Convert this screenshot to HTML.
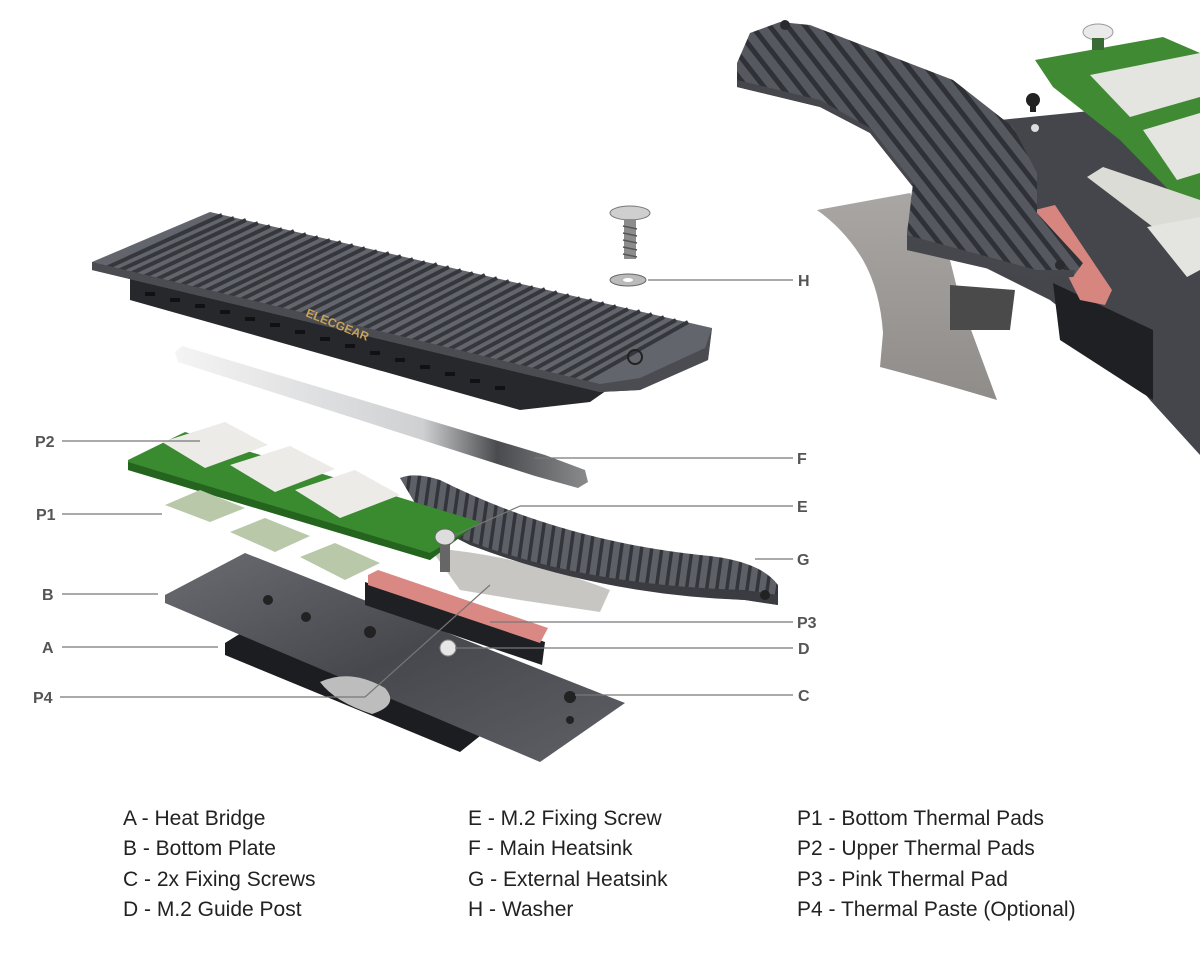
<!DOCTYPE html>
<html><head><meta charset="utf-8"><style>
html,body{margin:0;padding:0;background:#fff;}
svg{display:block}
text{font-family:"Liberation Sans",sans-serif;}
</style></head><body>
<svg width="1200" height="960" viewBox="0 0 1200 960" xmlns="http://www.w3.org/2000/svg">
<defs>
<pattern id="fins2" width="10" height="10" patternUnits="userSpaceOnUse" patternTransform="rotate(8)">
<rect width="10" height="10" fill="#5d6067"/><rect width="3.5" height="10" fill="#33353a"/></pattern>
<pattern id="fins3" width="14" height="14" patternUnits="userSpaceOnUse" patternTransform="rotate(-38)">
<rect width="14" height="14" fill="#55585f"/><rect width="5" height="14" fill="#2f3136"/></pattern>
<linearGradient id="steel" x1="0" y1="0" x2="1" y2="0"><stop offset="0" stop-color="#f4f4f4"/><stop offset=".6" stop-color="#cfd0d2"/><stop offset=".78" stop-color="#4a4b4e"/><stop offset="1" stop-color="#8a8b8d"/></linearGradient>
<linearGradient id="silver" x1="0" y1="0" x2="0" y2="1"><stop offset="0" stop-color="#a9a6a3"/><stop offset="1" stop-color="#8f8c89"/></linearGradient>
<linearGradient id="plate" x1="0" y1="0" x2="1" y2="1"><stop offset="0" stop-color="#6a6c72"/><stop offset=".5" stop-color="#46484d"/><stop offset="1" stop-color="#5e6066"/></linearGradient>
</defs>
<rect width="1200" height="960" fill="#fff"/>

<!-- top-right close-up -->
<path d="M1000,120 L1200,100 L1200,455 L1150,400 L1100,340 L1050,300 L1000,275 L950,250Z" fill="#44464c"/>
<path d="M1053,283 L1153,330 L1153,400 L1060,340Z" fill="#1f2023"/>
<path d="M817,210 L910,193 L950,260 L960,300 L997,400 Q930,380 880,367 L883,333 Q880,290 863,260 Q845,230 817,210Z" fill="url(#silver)"/>
<path d="M950,285 L1015,290 L1010,330 L950,330Z" fill="#4a4a4b"/>
<path d="M1035,210 L1055,205 L1112,290 L1105,305 L1080,300Z" fill="#d7857f"/>
<path d="M1035,60 L1163,37 L1200,53 L1200,222 L1120,140 L1053,87Z" fill="#3f8a32"/>
<path d="M1090,75 L1200,53 L1200,97 L1130,117Z" fill="#e4e4e0"/>
<path d="M1143,130 L1200,113 L1200,173 L1177,180Z" fill="#e4e4e0"/>
<path d="M1087,177 L1103,167 L1200,200 L1200,262 L1170,240Z" fill="#dcdcd6"/>
<path d="M1147,227 L1200,217 L1200,270 L1187,277Z" fill="#e4e4e0"/>
<path d="M750,33 L780,22 L810,25 L953,80 L1013,127 L1037,173 L1037,213 L1083,263 L1073,277 L1037,277 L907,250 L907,233 L913,187 L870,133 L820,107 L737,87 L737,63Z" fill="url(#fins3)"/>
<path d="M737,80 L820,100 L870,128 L913,182 L907,235 L1037,270 L1075,270 L1073,277 L1037,280 L907,250 L907,233 L913,187 L870,133 L820,107 L737,87Z" fill="#45474d"/>
<circle cx="785" cy="25" r="5" fill="#2a2b2e"/><circle cx="1060" cy="265" r="5" fill="#2a2b2e"/>
<circle cx="1033" cy="100" r="7" fill="#222"/><rect x="1030" y="100" width="6" height="12" fill="#222"/>
<circle cx="1035" cy="128" r="4" fill="#ddd"/>
<ellipse cx="1098" cy="32" rx="15" ry="8" fill="#eaeaea" stroke="#999"/>
<rect x="1092" y="38" width="12" height="12" fill="#3a6a35"/>

<!-- main heatsink F -->
<path d="M130,272 L610,388 L590,402 L520,410 L130,300Z" fill="#26282c"/>
<g fill="#101113">
<rect x="145" y="292" width="10" height="4"/><rect x="170" y="298" width="10" height="4"/><rect x="195" y="304" width="10" height="4"/><rect x="220" y="310" width="10" height="4"/><rect x="245" y="317" width="10" height="4"/><rect x="270" y="323" width="10" height="4"/><rect x="295" y="330" width="10" height="4"/><rect x="320" y="337" width="10" height="4"/><rect x="345" y="344" width="10" height="4"/><rect x="370" y="351" width="10" height="4"/><rect x="395" y="358" width="10" height="4"/><rect x="420" y="365" width="10" height="4"/><rect x="445" y="372" width="10" height="4"/><rect x="470" y="379" width="10" height="4"/><rect x="495" y="386" width="10" height="4"/>
</g>
<path d="M92,262 L210,212 L712,328 L708,360 L640,390 L600,392 L92,270Z" fill="#62656c"/>
<g stroke="#35373c" stroke-width="4">
<line x1="222" y1="215" x2="104" y2="269"/><line x1="234" y1="218" x2="116" y2="272"/><line x1="246" y1="220" x2="128" y2="275"/><line x1="258" y1="223" x2="141" y2="278"/><line x1="270" y1="226" x2="153" y2="281"/><line x1="282" y1="229" x2="165" y2="284"/><line x1="294" y1="231" x2="177" y2="287"/><line x1="306" y1="234" x2="189" y2="290"/><line x1="318" y1="237" x2="201" y2="293"/><line x1="330" y1="240" x2="213" y2="296"/><line x1="341" y1="242" x2="226" y2="298"/><line x1="353" y1="245" x2="238" y2="301"/><line x1="365" y1="248" x2="250" y2="304"/><line x1="377" y1="251" x2="262" y2="307"/><line x1="389" y1="253" x2="274" y2="310"/><line x1="401" y1="256" x2="286" y2="313"/><line x1="413" y1="259" x2="298" y2="316"/><line x1="425" y1="262" x2="311" y2="319"/><line x1="437" y1="264" x2="323" y2="322"/><line x1="449" y1="267" x2="335" y2="325"/><line x1="461" y1="270" x2="347" y2="328"/><line x1="473" y1="273" x2="359" y2="331"/><line x1="485" y1="275" x2="371" y2="334"/><line x1="497" y1="278" x2="384" y2="337"/><line x1="509" y1="281" x2="396" y2="340"/><line x1="521" y1="284" x2="408" y2="343"/><line x1="533" y1="287" x2="420" y2="346"/><line x1="545" y1="289" x2="432" y2="349"/><line x1="557" y1="292" x2="444" y2="352"/><line x1="569" y1="295" x2="456" y2="355"/><line x1="580" y1="298" x2="469" y2="357"/><line x1="592" y1="300" x2="481" y2="360"/><line x1="604" y1="303" x2="493" y2="363"/><line x1="616" y1="306" x2="505" y2="366"/><line x1="628" y1="309" x2="517" y2="369"/><line x1="640" y1="311" x2="529" y2="372"/><line x1="652" y1="314" x2="541" y2="375"/><line x1="664" y1="317" x2="554" y2="378"/><line x1="676" y1="320" x2="566" y2="381"/><line x1="688" y1="322" x2="578" y2="384"/>
</g>
<path d="M92,262 L92,270 L600,392 L640,390 L708,360 L712,328 L705,348 L640,378 L600,384Z" fill="#4a4c52"/>
<text x="305" y="316" font-size="12" font-weight="bold" fill="#c9a25a" transform="rotate(22 305 316)">ELECGEAR</text>
<circle cx="635" cy="357" r="7" fill="none" stroke="#222" stroke-width="2"/>

<!-- steel bar -->
<path d="M175,352 L182,346 L545,455 L585,470 L588,482 L578,488 L535,476 L178,362Z" fill="url(#steel)"/>

<!-- heat bridge A & bottom plate B -->
<path d="M225,643 L262,620 L510,712 L460,752 L225,655Z" fill="#1c1d20"/>
<path d="M165,595 L245,553 L625,703 L540,762 L165,603Z" fill="url(#plate)"/>
<path d="M320,682 Q350,668 385,688 Q400,705 372,714 Q335,702 320,682Z" fill="#bdbdbd"/>
<circle cx="268" cy="600" r="5" fill="#222"/><circle cx="306" cy="617" r="5" fill="#222"/><circle cx="370" cy="632" r="6" fill="#222"/>
<circle cx="570" cy="697" r="6" fill="#222"/><circle cx="570" cy="720" r="4" fill="#222"/>
<circle cx="448" cy="648" r="8" fill="#e6e6e6" stroke="#888"/>

<!-- black block & pink pad P3 -->
<path d="M365,582 L545,642 L542,665 L365,605Z" fill="#1f2023"/>
<path d="M368,575 L378,570 L548,628 L540,643 L368,585Z" fill="#d98883"/>

<!-- silver under G -->
<path d="M430,548 Q520,555 610,590 L600,612 L520,600 L460,590Z" fill="#c8c6c3"/>

<!-- external heatsink G -->
<path d="M400,478 Q415,472 440,480 Q560,540 700,555 Q760,560 778,585 L778,605 L745,600 Q600,592 470,545 L425,520Z" fill="url(#fins2)"/>
<path d="M430,525 Q560,585 745,590 L778,595 L778,605 L745,600 Q600,595 470,545Z" fill="#3a3c41"/>
<circle cx="765" cy="595" r="5" fill="#222"/>

<!-- PCB & pads -->
<path d="M128,460 L185,432 L480,522 L430,560 L128,470Z" fill="#3a8a30"/>
<path d="M128,462 L128,470 L430,560 L480,522 L475,526 L430,553Z" fill="#25641f"/>
<path d="M165,505 L200,490 L245,508 L210,522Z" fill="#b9c8a8"/>
<path d="M230,532 L265,518 L310,536 L275,552Z" fill="#b9c8a8"/>
<path d="M300,557 L335,543 L380,563 L345,580Z" fill="#b9c8a8"/>
<path d="M162,442 L225,422 L268,445 L205,468Z" fill="#ecebe8"/>
<path d="M230,465 L290,446 L335,469 L275,492Z" fill="#ecebe8"/>
<path d="M295,490 L355,470 L400,495 L340,518Z" fill="#ecebe8"/>
<ellipse cx="445" cy="537" rx="10" ry="8" fill="#ddd" stroke="#666"/>
<rect x="440" y="545" width="10" height="27" fill="#666"/>

<!-- screw & washer H -->
<ellipse cx="630" cy="213" rx="20" ry="7" fill="#cfcfcf" stroke="#777"/>
<rect x="624" y="219" width="12" height="40" fill="#8c8c8c"/>
<g stroke="#555" stroke-width="1.5"><line x1="623" y1="226" x2="637" y2="229"/><line x1="623" y1="233" x2="637" y2="236"/><line x1="623" y1="240" x2="637" y2="243"/><line x1="623" y1="247" x2="637" y2="250"/><line x1="623" y1="254" x2="637" y2="257"/></g>
<ellipse cx="628" cy="280" rx="18" ry="6" fill="#bbb" stroke="#666"/>
<ellipse cx="628" cy="280" rx="5" ry="2" fill="#fff"/>

<!-- leader lines -->
<g stroke="#777" stroke-width="1.2">
<line x1="62" y1="441" x2="200" y2="441"/>
<line x1="62" y1="514" x2="162" y2="514"/>
<line x1="62" y1="594" x2="158" y2="594"/>
<line x1="62" y1="647" x2="218" y2="647"/>
<line x1="60" y1="697" x2="365" y2="697"/><line x1="365" y1="697" x2="490" y2="585"/>
<line x1="648" y1="280" x2="793" y2="280"/>
<line x1="535" y1="458" x2="793" y2="458"/>
<line x1="455" y1="535" x2="520" y2="506"/><line x1="520" y1="506" x2="793" y2="506"/>
<line x1="755" y1="559" x2="793" y2="559"/>
<line x1="490" y1="622" x2="793" y2="622"/>
<line x1="455" y1="648" x2="793" y2="648"/>
<line x1="575" y1="695" x2="793" y2="695"/>
</g>
<g font-size="16" font-weight="bold" fill="#555">
<text x="35" y="447">P2</text><text x="36" y="520">P1</text><text x="42" y="600">B</text>
<text x="42" y="653">A</text><text x="33" y="703">P4</text>
<text x="798" y="286">H</text><text x="797" y="464">F</text><text x="797" y="512">E</text>
<text x="797" y="565">G</text><text x="797" y="628">P3</text><text x="798" y="654">D</text><text x="798" y="701">C</text>
</g>

<!-- legend -->
<g font-size="21" fill="#222">
<text x="123" y="825">A - Heat Bridge</text><text x="123" y="855">B - Bottom Plate</text>
<text x="123" y="886">C - 2x Fixing Screws</text><text x="123" y="916">D - M.2 Guide Post</text>
<text x="468" y="825">E - M.2 Fixing Screw</text><text x="468" y="855">F - Main Heatsink</text>
<text x="468" y="886">G - External Heatsink</text><text x="468" y="916">H - Washer</text>
<text x="797" y="825">P1 - Bottom Thermal Pads</text><text x="797" y="855">P2 - Upper Thermal Pads</text>
<text x="797" y="886">P3 - Pink Thermal Pad</text><text x="797" y="916">P4 - Thermal Paste (Optional)</text>
</g>
</svg>
</body></html>
